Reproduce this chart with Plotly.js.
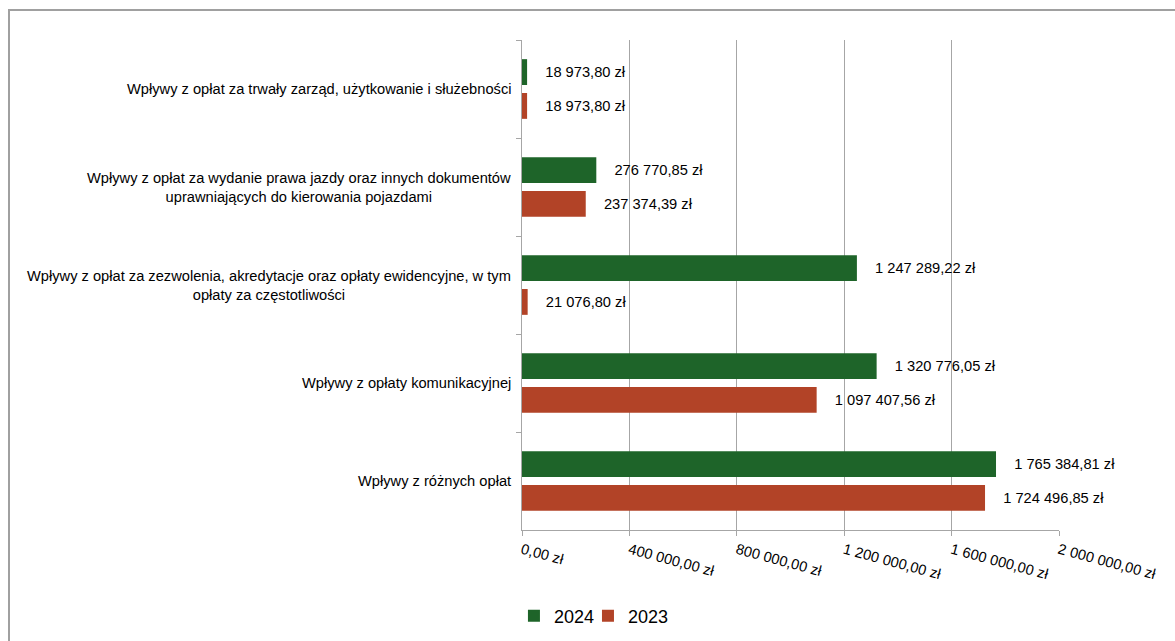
<!DOCTYPE html>
<html>
<head>
<meta charset="utf-8">
<script src="https://cdn.plot.ly/plotly-3.0.1.min.js"></script>
<style>
  html, body { margin: 0; padding: 0; background: #fff; }
  #wrap { position: relative; width: 1175px; height: 641px; }
  #chart { width: 1175px; height: 641px; }
  #frame { position: absolute; left: 8px; top: 9px; width: 1200px; height: 700px;
           border-left: 2px solid #a0a0a0; border-top: 2px solid #a0a0a0; pointer-events: none; }
</style>
</head>
<body>
<div id="wrap">
  <div id="chart"></div>
  <div id="frame"></div>
</div>
<script>
// Categories, top to bottom
const categories = [
  "Wpływy z opłat za trwały zarząd, użytkowanie i służebności",
  "Wpływy z opłat za wydanie prawa jazdy oraz innych dokumentów<br>uprawniających do kierowania pojazdami",
  "Wpływy z opłat za zezwolenia, akredytacje oraz opłaty ewidencyjne, w tym<br>opłaty za częstotliwości",
  "Wpływy z opłaty komunikacyjnej",
  "Wpływy z różnych opłat"
];
const values2024 = [18973.80, 276770.85, 1247289.22, 1320776.05, 1765384.81];
const values2023 = [18973.80, 237374.39, 21076.80, 1097407.56, 1724496.85];
const seriesNames = ["2024", "2023"];
const tickValues = [0, 400000, 800000, 1200000, 1600000, 2000000];

function plMoney(n) {
  const parts = n.toFixed(2).split(".");
  const intPart = parts[0].replace(/\B(?=(\d{3})+(?!\d))/g, " ");
  return intPart + "," + parts[1] + " zł";
}
const tickLabels = tickValues.map(plMoney);

const font = "Liberation Sans, Arial, sans-serif";
const fs = 14.67;
const pad = "\u00a0\u00a0\u00a0\u2009";

function barTrace(name, vals, color, legendId) {
  return {
    type: "bar",
    orientation: "h",
    name: name,
    legend: legendId,
    x: vals,
    y: categories,
    marker: { color: color },
    texttemplate: pad + "%{x:,.2f} zł",
    textposition: "outside",
    constraintext: "none",
    cliponaxis: false,
    textfont: { family: font, size: fs, color: "#000" },
    hoverinfo: "x+y"
  };
}

const data = [
  barTrace(seriesNames[0], values2024, "#1e6429", "legend"),
  barTrace(seriesNames[1], values2023, "#b24327", "legend2")
];

const annotations = categories.map(c => ({
  text: c,
  x: 0, xref: "paper", xanchor: "right", xshift: -9,
  y: c, yref: "y", yanchor: "middle",
  align: "center",
  showarrow: false,
  font: { family: font, size: fs, color: "#000" }
}));

const legendBase = {
  orientation: "h",
  xref: "container", yref: "container",
  yanchor: "middle",
  y: 0.039,
  font: { family: font, size: 18, color: "#000" },
  itemwidth: 30,
  bgcolor: "rgba(0,0,0,0)"
};

const layout = {
  width: 1175, height: 641,
  margin: { l: 522, r: 116, t: 40, b: 111, autoexpand: false },
  paper_bgcolor: "#fff", plot_bgcolor: "#fff",
  separators: ", ",
  barmode: "group",
  bargap: 0.31,
  bargroupgap: 0.235,
  font: { family: font, size: fs, color: "#000" },
  xaxis: {
    range: [0, 2000000],
    tickmode: "array",
    tickvals: tickValues,
    ticktext: tickLabels,
    tickangle: 15,
    tickfont: { family: font, size: fs, color: "#000" },
    showgrid: true, gridcolor: "#a6a6a6", gridwidth: 1,
    zeroline: false,
    showline: true, linecolor: "#a6a6a6", linewidth: 1,
    ticks: "outside", ticklen: 5, tickcolor: "#a6a6a6",
    fixedrange: true
  },
  yaxis: {
    type: "category",
    autorange: "reversed",
    showticklabels: false,
    showline: true, linecolor: "#a6a6a6", linewidth: 1,
    ticks: "outside", ticklen: 5, tickcolor: "#a6a6a6",
    tickson: "boundaries",
    showgrid: false,
    fixedrange: true
  },
  showlegend: true,
  legend: Object.assign({}, legendBase, { x: 0.4374, xanchor: "left" }),
  legend2: Object.assign({}, legendBase, { x: 0.5004, xanchor: "left" }),
  annotations: annotations
};

Plotly.newPlot("chart", data, layout, { displayModeBar: false, staticPlot: true });
</script>
</body>
</html>
